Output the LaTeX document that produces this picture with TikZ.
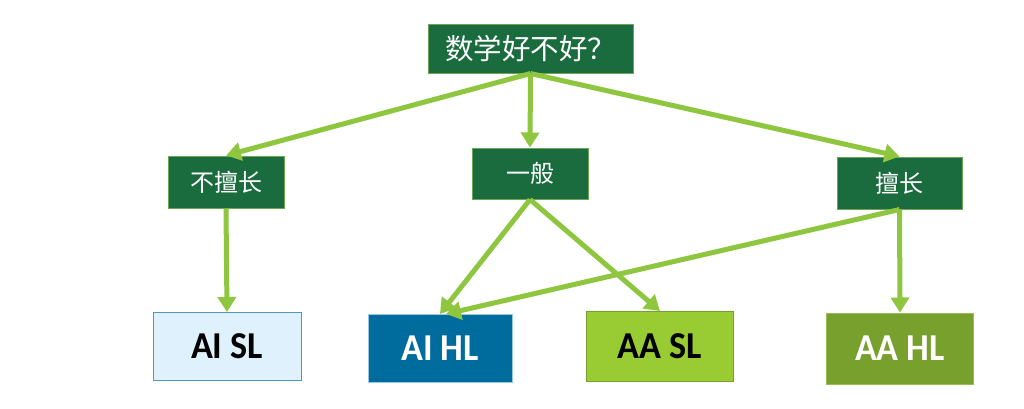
\documentclass[tikz,border=0pt]{standalone}
\usepackage{fontspec}
\setmainfont{Carlito}
\newfontfamily\cjk{Noto Sans CJK SC}
\newfontfamily\lat[FakeStretch=0.95]{Carlito}
\usetikzlibrary{arrows.meta}
\definecolor{dkgreen}{RGB}{26,108,62}
\definecolor{dkborder}{RGB}{110,165,85}
\definecolor{arrgreen}{RGB}{142,198,63}
\definecolor{aislfill}{RGB}{222,241,252}
\definecolor{aislborder}{RGB}{85,150,190}
\definecolor{aihlfill}{RGB}{0,108,158}
\definecolor{aihlborder}{RGB}{150,200,228}
\definecolor{aaslfill}{RGB}{153,204,51}
\definecolor{aaslborder}{RGB}{118,160,48}
\definecolor{aahlfill}{RGB}{119,160,44}
\definecolor{aahlborder}{RGB}{150,190,80}
\tikzset{
  qbox/.style={draw=dkborder, line width=1pt, fill=dkgreen, text=white, inner sep=0pt, font=\cjk},
  resbox/.style={line width=1pt, inner sep=0pt, font=\lat\bfseries\fontsize{38}{38}\selectfont},
  arr/.style={draw=arrgreen, line width=5pt, -{Triangle[length=15pt,width=18pt]}}
}
\begin{document}
\begin{tikzpicture}[x=1pt,y=-1pt]
\useasboundingbox[fill=white] (0,0) rectangle (1024,408);
\node[qbox, minimum width=205pt, minimum height=49pt, font=\cjk\fontsize{28.5}{28.5}\selectfont] (q) at (530.5,48.5) {数学好不好？};
\node[qbox, minimum width=116pt, minimum height=52pt, font=\cjk\fontsize{24}{24}\selectfont] (bsc) at (226,182) {不擅长};
\node[qbox, minimum width=116pt, minimum height=51pt, font=\cjk\fontsize{24}{24}\selectfont] (yb) at (530,173.5) {一般};
\node[qbox, minimum width=125pt, minimum height=52pt, font=\cjk\fontsize{24}{24}\selectfont] (sc) at (899.5,183) {擅长};
\node[resbox, draw=aislborder, fill=aislfill, text=black, minimum width=148pt, minimum height=68pt] (aisl) at (227,346.5) {AI SL};
\node[resbox, draw=aihlborder, fill=aihlfill, text=white, minimum width=144pt, minimum height=68pt] (aihl) at (440,348.5) {AI HL};
\node[resbox, draw=aaslborder, fill=aaslfill, text=black, minimum width=147pt, minimum height=70pt] (aasl) at (660,346.5) {AA SL};
\node[resbox, draw=aahlborder, fill=aahlfill, text=white, minimum width=147pt, minimum height=71pt] (aahl) at (900,348.5) {AA HL};
\draw[arr] (q.south) -- (bsc.north);
\draw[arr] (q.south) -- (yb.north);
\draw[arr] (q.south) -- (sc.north);
\draw[arr] (bsc.south) -- (aisl.north);
\draw[arr] (yb.south) -- (aihl.north);
\draw[arr] (yb.south) -- (aasl.north);
\draw[arr] (sc.south) -- ([xshift=6pt]aihl.north);
\draw[arr] (sc.south) -- (aahl.north);
\end{tikzpicture}
\end{document}
